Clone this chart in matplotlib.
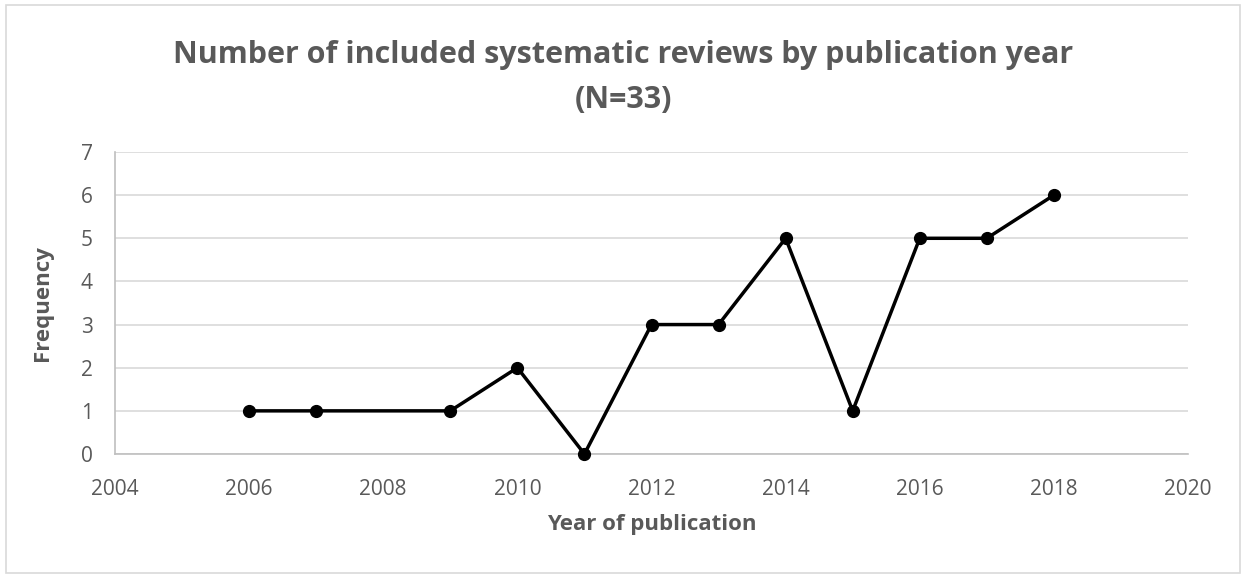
import matplotlib
matplotlib.use('Agg')
import matplotlib.pyplot as plt
from matplotlib.patches import Rectangle

# data
years = [2006, 2007, 2009, 2010, 2011, 2012, 2013, 2014, 2015, 2016, 2017, 2018]
counts = [1, 1, 1, 2, 0, 3, 3, 5, 1, 5, 5, 6]
x_ticks = [2004, 2006, 2008, 2010, 2012, 2014, 2016, 2018, 2020]
y_ticks = [0, 1, 2, 3, 4, 5, 6, 7]

GRAY_TXT = '#595959'
GRID = '#d9d9d9'

plt.rcParams['font.family'] = ['Open Sans', 'DejaVu Sans']

W, H = 1246, 574
fig = plt.figure(figsize=(W / 100, H / 100), dpi=100)
# axes box in pixels: x 115..1188, y 152..454
ax = fig.add_axes([115 / W, 1 - 454 / H, (1188 - 115) / W, (454 - 152) / H])

ax.plot(years, counts, color='black', lw=2.5, marker='o', markersize=8.5,
        zorder=3, clip_on=False)

ax.set_xlim(2004, 2020)
ax.set_ylim(0, 7)
ax.set_xticks(x_ticks)
ax.set_yticks(y_ticks)
ax.grid(axis='y', color=GRID, lw=1.2)
ax.set_axisbelow(True)
for s in ['top', 'right']:
    ax.spines[s].set_visible(False)
for s in ['bottom', 'left']:
    ax.spines[s].set_color('#bfbfbf')
    ax.spines[s].set_linewidth(1.2)
ax.tick_params(length=0, labelsize=15, labelcolor=GRAY_TXT)
ax.tick_params(axis='x', pad=18)
ax.tick_params(axis='y', pad=16)

ax.set_xlabel('Year of publication', fontsize=16, fontweight='bold', color=GRAY_TXT, labelpad=10)
ax.set_ylabel('Frequency', fontsize=16, fontweight='bold', color=GRAY_TXT, labelpad=20)

fig.text(0.5, 1 - 55 / H, 'Number of included systematic reviews by publication year',
         ha='center', va='center', fontsize=22, fontweight='bold', color=GRAY_TXT)
fig.text(0.5, 1 - 100 / H, '(N=33)',
         ha='center', va='center', fontsize=22, fontweight='bold', color=GRAY_TXT)

# chart border
fig.patches.append(Rectangle((6 / W, 1 / H), 1 - 12 / W, 1 - 6 / H, transform=fig.transFigure,
                             fill=False, edgecolor=GRID, lw=1.2))

fig.savefig('out.png', dpi=100, facecolor='white')
